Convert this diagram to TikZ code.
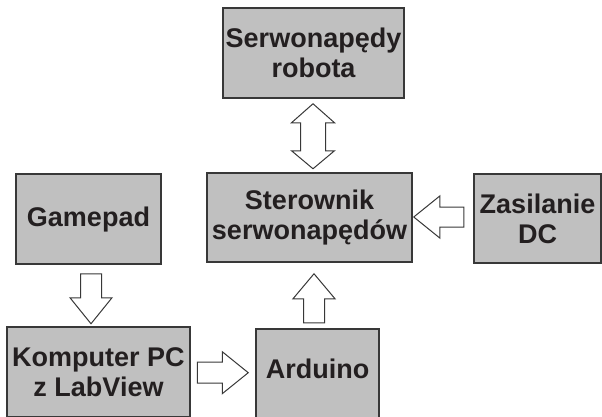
\documentclass[tikz,border=0pt]{standalone}
\usepackage{fontspec}
\setmainfont{Liberation Sans}
\usetikzlibrary{calc}
\definecolor{boxfill}{HTML}{C0C0C0}
\definecolor{boxline}{HTML}{383838}
\definecolor{txt}{HTML}{231F20}
\tikzset{
  blk/.style={draw=boxline, line width=1.5pt, fill=boxfill, rectangle, inner sep=0pt,
    align=center, text=txt, font=\fontsize{27}{30}\selectfont\bfseries},
  oneline/.style={text height=20pt, text depth=6pt},
  barrow/.style={draw=boxline, line width=1pt, fill=white, line join=miter}
}
\begin{document}
\begin{tikzpicture}[x=1pt,y=-1pt]
\useasboundingbox (0,0) rectangle (602,416);
% boxes
\node[blk, minimum width=181pt, minimum height=90pt] (serw) at (313.5,53) {Serwonapędy\\robota};
\node[blk, minimum width=205pt, minimum height=89pt] (ster) at (309.5,217.5) {Sterownik\\serwonapędów};
\node[blk, minimum width=127pt, minimum height=89pt] (zas) at (537.5,218.5) {Zasilanie\\DC};
\node[blk, oneline, minimum width=145pt, minimum height=90pt] (gp) at (88.5,219) {Gamepad};
\node[blk, minimum width=183pt, minimum height=90pt] (pc) at (98.5,372) {Komputer PC\\z LabView};
\node[blk, oneline, minimum width=123pt, minimum height=90pt, text depth=12pt] (ard) at (317.5,374) {Arduino};
% block arrows
% serwonapedy <-> sterownik
\draw[barrow] ($(serw.south)+(-0.5,5)$) -- ++(21.5,19) -- ++(-9,0) -- ++(0,28) -- ++(9,0)
  -- ++(-21.5,18) -- ++(-21.5,-18) -- ++(9,0) -- ++(0,-28) -- ++(-9,0) -- cycle;
% zasilanie -> sterownik
\draw[barrow] ($(ster.east)+(1,-0.5)$) -- ++(26,-21) -- ++(0,11) -- ++(24,0) -- ++(0,20)
  -- ++(-24,0) -- ++(0,11) -- cycle;
% gamepad -> komputer
\draw[barrow] ($(gp.south)+(2.5,59)$) -- ++(-21,-26) -- ++(10.5,0) -- ++(0,-24) -- ++(21,0)
  -- ++(0,24) -- ++(10.5,0) -- cycle;
% arduino -> sterownik
\draw[barrow] ($(ster.south)+(4.5,11)$) -- ++(21,25) -- ++(-10.5,0) -- ++(0,24) -- ++(-21,0)
  -- ++(0,-24) -- ++(-10.5,0) -- cycle;
% komputer -> arduino
\draw[barrow] ($(ard.west)+(-7,-1.3)$) -- ++(-26,-21) -- ++(0,10.5) -- ++(-25,0) -- ++(0,21)
  -- ++(25,0) -- ++(0,10.5) -- cycle;
\end{tikzpicture}
\end{document}
